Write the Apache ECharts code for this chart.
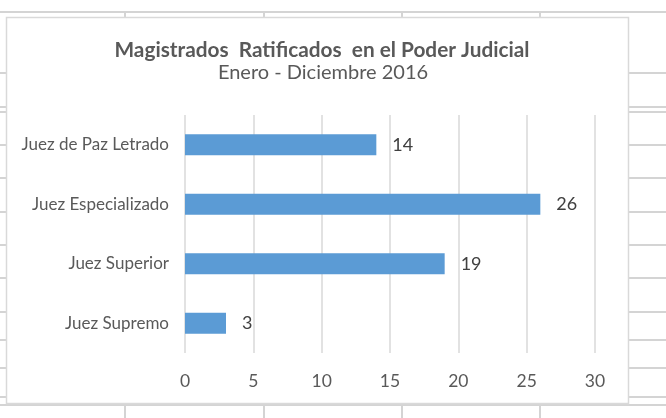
<!DOCTYPE html>
<html>
<head>
<meta charset="utf-8">
<script src="https://cdn.jsdelivr.net/npm/echarts@6/dist/echarts.min.js"></script>
<style>
  html, body { margin: 0; padding: 0; background: #fff; }
  #chart { width: 666px; height: 418px; }
</style>
</head>
<body>
<div id="chart"></div>
<script>
// datos del gráfico
var categorias = ["Juez Supremo", "Juez Superior", "Juez Especializado", "Juez de Paz Letrado"];
var ratificados = [3, 19, 26, 14];
var ejeTicks = [0, 5, 10, 15, 20, 25, 30];

var fuente = "Lato, 'Open Sans', sans-serif";
var gris = "#d4d4d4";

// líneas de la hoja de cálculo alrededor del gráfico
var hojaY = [73, 107, 112, 145, 178, 212, 245, 278, 312, 340, 368, 397];
var hojaX = [125, 264, 402, 540];
var fondo = [];
fondo.push({ type: "line", shape: { x1: 0, y1: 12, x2: 666, y2: 12 }, style: { stroke: gris, lineWidth: 2 } });
fondo.push({ type: "line", shape: { x1: 0, y1: 405, x2: 666, y2: 405 }, style: { stroke: gris, lineWidth: 2 } });
hojaY.forEach(function (y) {
  fondo.push({ type: "line", shape: { x1: 0, y1: y, x2: 6, y2: y }, style: { stroke: gris, lineWidth: 2 } });
  fondo.push({ type: "line", shape: { x1: 629, y1: y, x2: 666, y2: y }, style: { stroke: gris, lineWidth: 2 } });
});
hojaX.forEach(function (x) {
  fondo.push({ type: "line", shape: { x1: x, y1: 12, x2: x, y2: 17 }, style: { stroke: gris, lineWidth: 2 } });
  fondo.push({ type: "line", shape: { x1: x, y1: 405, x2: x, y2: 418 }, style: { stroke: gris, lineWidth: 2 } });
});
// marco del gráfico
fondo.push({ type: "rect", shape: { x: 6.5, y: 17.5, width: 622, height: 386 }, style: { fill: "#fff", stroke: "#d9d9d9", lineWidth: 1.5 }, z: -1 });

var myChart = echarts.init(document.getElementById("chart"));
myChart.setOption({
  animation: false,
  textStyle: { fontFamily: fuente },
  graphic: fondo.map(function (g) { g.silent = true; if (g.z === undefined) g.z = -2; return g; }),
  title: [{
    text: "Magistrados  Ratificados  en el Poder Judicial",
    left: 317,
    textAlign: "center",
    top: 35,
    textStyle: { fontFamily: fuente, fontSize: 20.8, fontWeight: "bold", color: "#595959" }
  }, {
    text: "Enero - Diciembre 2016",
    left: 318,
    textAlign: "center",
    top: 58,
    textStyle: { fontFamily: fuente, fontSize: 20, fontWeight: "normal", color: "#595959" }
  }],
  grid: { left: 185, right: 71, top: 115, height: 238 },
  xAxis: {
    type: "value",
    min: 0,
    max: 30,
    interval: 5,
    axisLine: { show: false },
    axisTick: { show: false },
    splitLine: { lineStyle: { color: "#d9d9d9", width: 1.5 } },
    axisLabel: {
      margin: 19,
      fontSize: 17.5,
      color: "#595959",
      fontFamily: fuente,
      formatter: function (v) { return ejeTicks.indexOf(v) >= 0 ? String(v) : ""; }
    }
  },
  yAxis: {
    type: "category",
    data: categorias,
    axisLine: { show: false },
    axisTick: { show: false },
    axisLabel: { margin: 16, fontSize: 17, color: "#595959", fontFamily: fuente }
  },
  series: [{
    type: "bar",
    data: ratificados,
    barWidth: 21,
    itemStyle: { color: "#5b9bd5" },
    label: {
      show: true,
      position: "right",
      distance: 16,
      fontSize: 18,
      color: "#404040",
      fontFamily: fuente
    }
  }]
});
</script>
</body>
</html>
